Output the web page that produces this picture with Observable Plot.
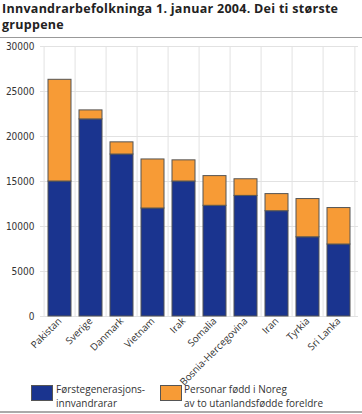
<!DOCTYPE html>
<html><head><meta charset="utf-8">
<script src="https://cdn.jsdelivr.net/npm/d3@7"></script>
<script src="https://cdn.jsdelivr.net/npm/@observablehq/plot@0.6"></script>
<style>
body{margin:0;background:#fff;font-family:"Open Sans",sans-serif;width:362px;height:414px;overflow:hidden;position:relative}
.title{position:absolute;left:2px;font-size:12.5px;font-weight:700;line-height:16px;letter-spacing:0.28px;color:#222;white-space:nowrap}
.rule{position:absolute;left:0;width:362px;background:#999}
#chart{position:absolute;left:0;top:38px}
.sw{position:absolute;width:20px;height:14px;border:1px solid #555;box-sizing:content-box}
.lt{position:absolute;font-size:10px;line-height:14px;color:#333;white-space:nowrap}
</style></head><body>
<div class="title" style="top:1px">Innvandrarbefolkninga 1. januar 2004. Dei ti største</div>
<div class="title" style="top:17px">gruppene</div>
<div class="rule" style="top:37px;height:1px"></div>
<div id="chart"></div>
<div id="legend"></div>
<div class="rule" style="top:411px;height:2px;background:#aaa"></div>
<script>
const categories = ["Pakistan","Sverige","Danmark","Vietnam","Irak","Somalia","Bosnia-Hercegovina","Iran","Tyrkia","Sri Lanka"];
const firstGen = [15000,21900,18000,12000,15000,12300,13400,11700,8800,8000];
const bornInNorway = [11300,1000,1350,5450,2350,3300,1850,1900,4250,4050];
const seriesNames = ["Førstegenerasjons-innvandrarar","Personar fødd i Noreg av to utanlandsfødde foreldre"];
const legendLines = [["Førstegenerasjons-","innvandrarar"],["Personar fødd i Noreg","av to utanlandsfødde foreldre"]];
const seriesColors = ["#1a348f","#f79b36"];
const yTicks = [0,5000,10000,15000,20000,25000,30000];

const rows = categories.flatMap((c,i)=>[
  {country:c, series:seriesNames[0], value:firstGen[i]},
  {country:c, series:seriesNames[1], value:bornInNorway[i]}
]);

const W=362, H=346, mL=40, mR=4, mT=8, mB=68;
const step=(W-mL-mR)/categories.length;

const chart = Plot.plot({
  width:W, height:H, marginTop:mT, marginLeft:mL, marginRight:mR, marginBottom:mB,
  x:{domain:categories, paddingInner:0.25, paddingOuter:0.125, label:null},
  y:{domain:[0,30000], label:null},
  color:{domain:seriesNames, range:seriesColors},
  style:{fontFamily:"'Liberation Sans Narrow','DejaVu Sans Condensed','Open Sans',sans-serif", fontSize:"10px", color:"#333", background:"transparent", overflow:"visible"},
  marks:[
    Plot.ruleY(yTicks,{stroke:"#e2e2e2", strokeWidth:1}),
    Plot.ruleX(categories,{x:d=>d, dx:-step/2, stroke:"#e2e2e2"}),
    Plot.ruleX([categories[categories.length-1]],{x:d=>d, dx:step/2, stroke:"#e2e2e2"}),
    Plot.barY(rows,{x:"country", y:"value", fill:"series", stroke:"#555", strokeWidth:1, order:seriesNames}),
    Plot.axisY({ticks:yTicks, tickSize:0, tickPadding:6, tickFormat:d=>String(d), fontSize:10}),
    Plot.axisX({tickSize:0, tickRotate:-45, tickPadding:3, fontFamily:"'Open Sans',sans-serif", fontSize:9.8})
  ]
});
document.getElementById("chart").appendChild(chart);

const lg=document.getElementById("legend");
const pos=[[31,56],[160,184]];
seriesNames.forEach((s,i)=>{
  const sw=document.createElement("div"); sw.className="sw";
  sw.style.left=pos[i][0]+"px"; sw.style.top="385px"; sw.style.background=seriesColors[i];
  lg.appendChild(sw);
  const t=document.createElement("div"); t.className="lt";
  t.style.left=pos[i][1]+"px"; t.style.top="382px";
  t.innerHTML=legendLines[i].join("<br>");
  lg.appendChild(t);
});
</script>
</body></html>
